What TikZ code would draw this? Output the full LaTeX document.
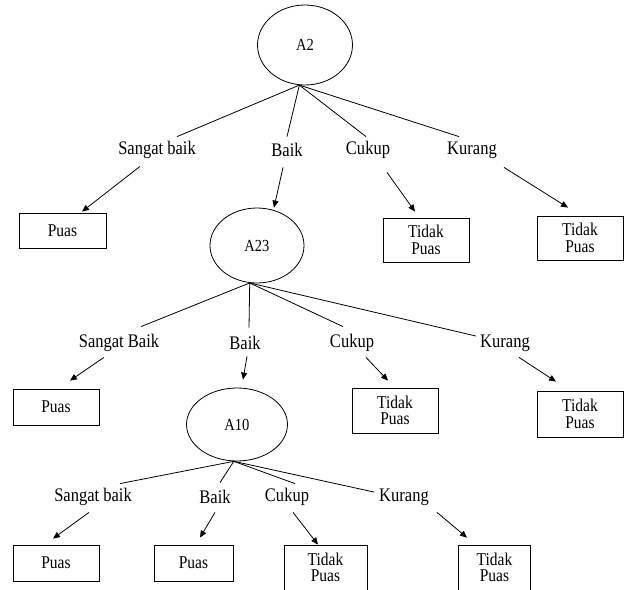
\documentclass[tikz,border=0pt]{standalone}
\usepackage{fontspec}
\setmainfont[FakeStretch=0.86]{Liberation Serif}
\usetikzlibrary{shapes.geometric,arrows.meta}

\begin{document}
\begin{tikzpicture}[x=1pt, y=-1pt, line width=0.8pt,
    attr/.style={ellipse, draw, inner sep=0pt, font=\fontsize{16.9}{18}\selectfont},
    val/.style={inner sep=0pt, minimum height=26pt, font=\fontsize{19.2}{20}\selectfont},
    leaf/.style={draw, inner sep=0pt, align=center, font=\fontsize{18}{16.5}\selectfont},
    pick/.style={-{Triangle[length=7pt, width=6pt]}}]
    \useasboundingbox (0,0) rectangle (626,589);

    \node[attr, minimum width=95pt, minimum height=80pt] (a2) at (305,45) {A2};
    \node[val] (sb1) at (157,150) {Sangat baik};
    \node[val] (b1) at (287,150) {Baik};
    \node[val] (c1) at (368,150) {Cukup};
    \node[val] (k1) at (472,150) {Kurang};
    \draw (a2.262) -- ([xshift=20pt]sb1.north);
    \draw (a2.262) -- (b1.north);
    \draw (a2.262) -- ([xshift=-2pt]c1.north);
    \draw (a2.262) -- ([xshift=-13pt]k1.north);

    \node[leaf, minimum width=87pt, minimum height=35pt] (p1) at (62.5,230.5) {Puas};
    \node[attr, minimum width=94pt, minimum height=75pt] (a23) at (257,245.5) {A23};
    \node[leaf, minimum width=86pt, minimum height=44pt] (t1) at (426,240) {Tidak\\Puas};
    \node[leaf, minimum width=86pt, minimum height=44pt] (t2) at (580,238) {Tidak\\Puas};
    \draw[pick] ([shift={(-17,3)}]sb1.south) -- ([shift={(19.5,-1)}]p1.north);
    \draw[pick] ([shift={(-4,4)}]b1.south) -- ([shift={(17,0)}]a23.north);
    \draw[pick] ([shift={(19,9)}]c1.south) -- ([shift={(-11,-6)}]t1.north);
    \draw[pick] ([shift={(32,4)}]k1.south) -- ([shift={(-12,-8)}]t2.north);

    \node[val] (sb2) at (119,343) {Sangat Baik};
    \node[val] (b2) at (245,343) {Baik};
    \node[val] (c2) at (352,343) {Cukup};
    \node[val] (k2) at (505,343) {Kurang};
    \draw (a23.259) -- ([shift={(22,-3)}]sb2.north);
    \draw (a23.259) -- ([shift={(4,-2)}]b2.north);
    \draw (a23.259) -- ([shift={(-9,-3)}]c2.north);
    \draw (a23.259) -- ([shift={(-4,-7)}]k2.west);

    \node[leaf, minimum width=86pt, minimum height=36pt] (p2) at (56,407) {Puas};
    \node[attr, minimum width=101pt, minimum height=73pt] (a10) at (237,424.5) {A10};
    \node[leaf, minimum width=86pt, minimum height=45pt] (t3) at (395,410.5) {Tidak\\Puas};
    \node[leaf, minimum width=86pt, minimum height=46pt] (t4) at (580,414) {Tidak\\Puas};
    \draw[pick] ([shift={(-15,1)}]sb2.south) -- ([shift={(14,-8)}]p2.north);
    \draw[pick] ([shift={(2,0)}]b2.south) -- ([shift={(6,-8)}]a10.north);
    \draw[pick] ([shift={(14,1)}]c2.south) -- ([shift={(-7,-7)}]t3.north);
    \draw[pick] ([shift={(14,1)}]k2.south) -- ([shift={(-24,-9)}]t4.north);

    \node[val] (sb3) at (93,497) {Sangat baik};
    \node[val] (b3) at (215,497) {Baik};
    \node[val] (c3) at (287,497) {Cukup};
    \node[val] (k3) at (404,497) {Kurang};
    \draw (a10.265) -- ([xshift=27pt]sb3.north);
    \draw (a10.265) -- ([shift={(5,-1)}]b3.north);
    \draw (a10.265) -- ([xshift=8pt]c3.north);
    \draw (a10.265) -- ([shift={(-5,-5)}]k3.west);

    \node[leaf, minimum width=86pt, minimum height=36pt] (p3) at (56,563) {Puas};
    \node[leaf, minimum width=79pt, minimum height=36pt] (p4) at (193.5,563) {Puas};
    \node[leaf, minimum width=83pt, minimum height=45pt] (t5) at (325.5,567.5) {Tidak\\Puas};
    \node[leaf, minimum width=72pt, minimum height=45pt] (t6) at (494.5,567.5) {Tidak\\Puas};
    \draw[pick] ([shift={(-4,2)}]sb3.south) -- ([shift={(-3,-6)}]p3.north);
    \draw[pick] ([shift={(0,2)}]b3.south) -- ([shift={(6.5,-7)}]p4.north);
    \draw[pick] ([shift={(6,2)}]c3.south) -- ([shift={(-7.5,0)}]t5.north);
    \draw[pick] ([shift={(33,2)}]k3.south) -- ([shift={(-27.5,-7)}]t6.north);
\end{tikzpicture}
\end{document}
